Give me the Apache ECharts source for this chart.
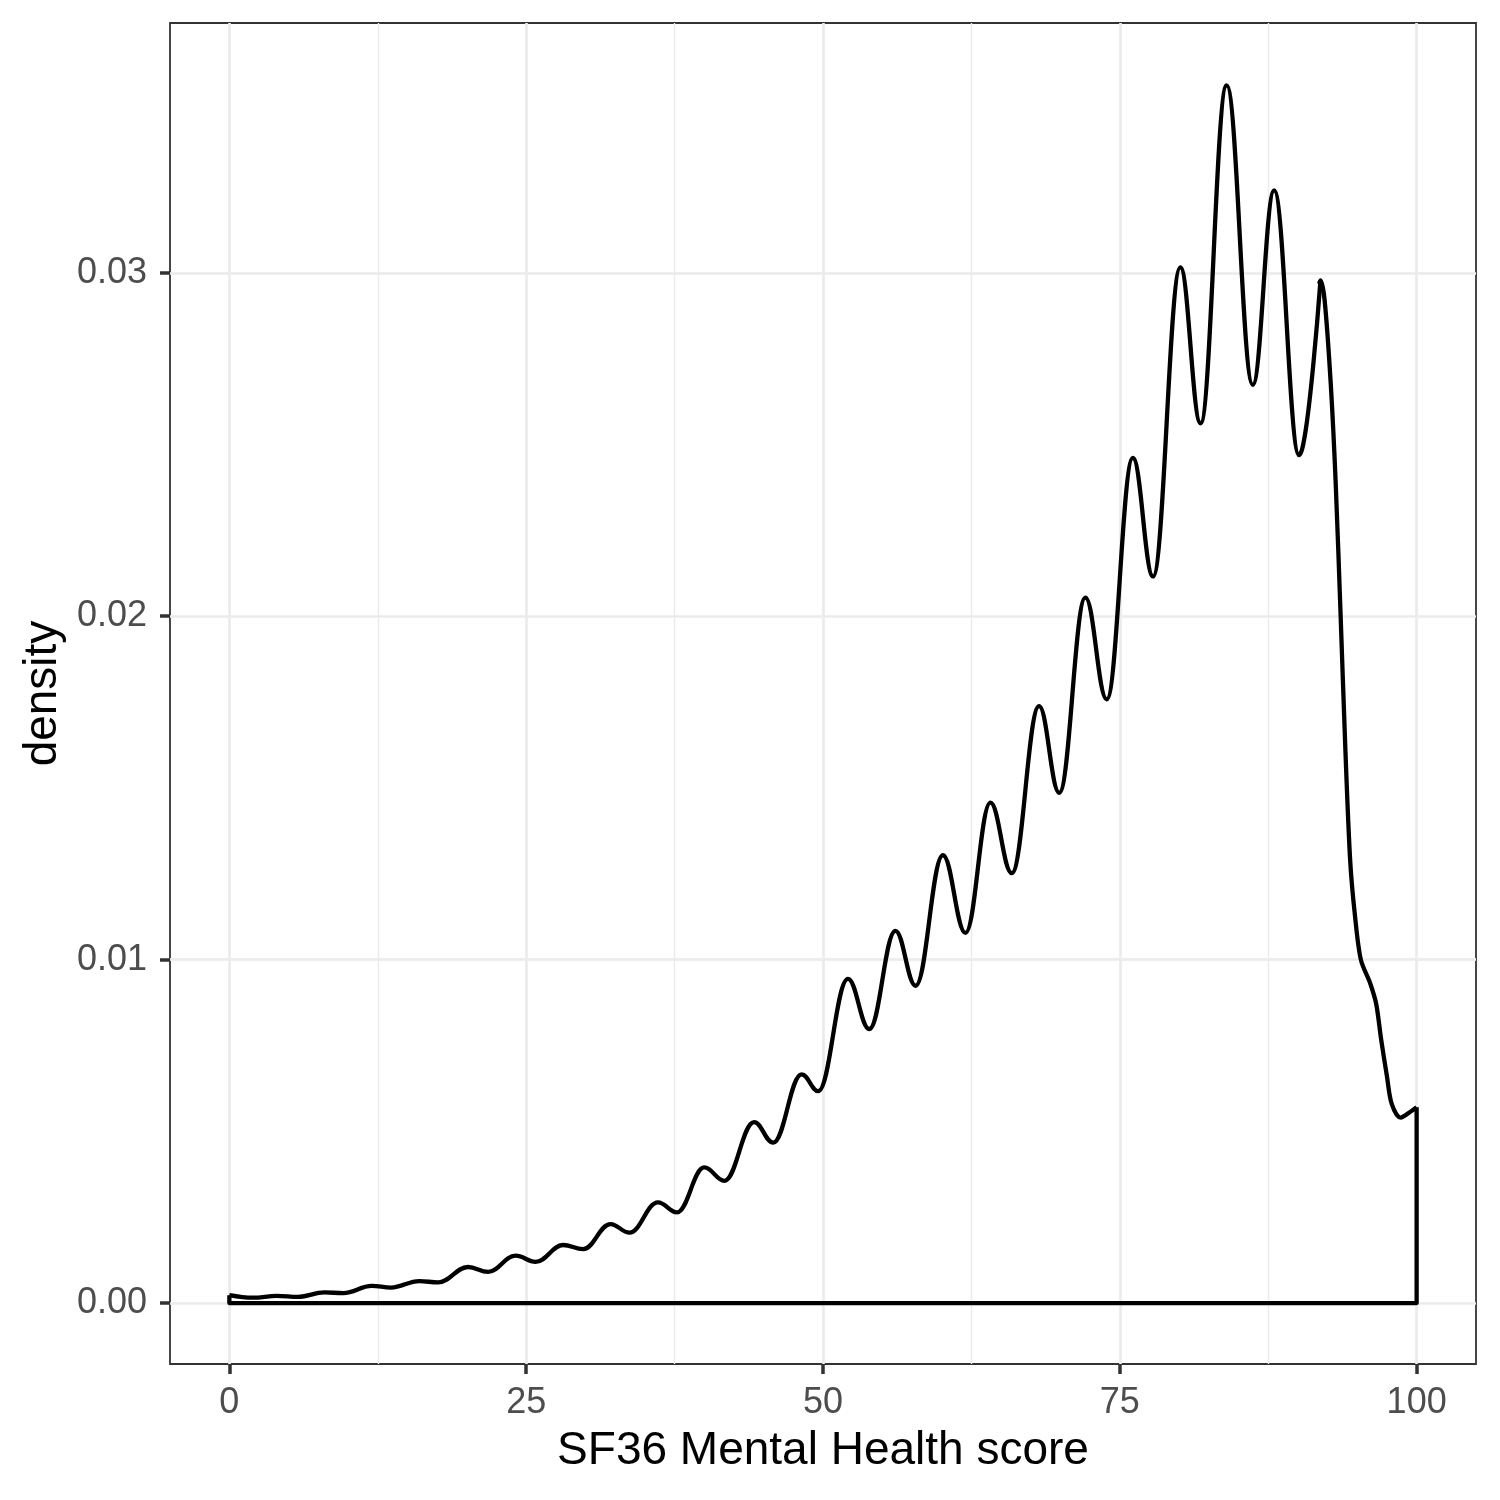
<!DOCTYPE html>
<html>
<head>
<meta charset="utf-8">
<script src="https://cdn.jsdelivr.net/npm/echarts@6/dist/echarts.min.js"></script>
<style>
  html, body { margin: 0; padding: 0; background: #ffffff; }
  #chart { width: 1500px; height: 1500px; }
</style>
</head>
<body>
<div id="chart"></div>
<script>
// Density curve: local peaks and troughs (score, density)
const curveX = [0, 2.0, 4.0, 5.8, 8.0, 9.6, 12.0, 13.6, 16.0, 17.6, 20.1, 21.8, 24.1, 25.8, 28.1, 29.8, 32.1, 33.7, 36.1, 37.7, 40.0, 41.7, 44.2, 45.8, 48.2, 49.6, 52.1, 53.9, 56.1, 57.8, 60.1, 62.0, 64.1, 65.9, 68.2, 69.9, 72.1, 73.9, 76.1, 77.8, 80.1, 81.8, 84.0, 86.2, 88.0, 90.1, 91.9];
const curveDensity = [0.00023, 0.000155, 0.00021, 0.00018, 0.00031, 0.00029, 0.0005, 0.00045, 0.00064, 0.0006, 0.00105, 0.00091, 0.00138, 0.0012, 0.00169, 0.00157, 0.0023, 0.00205, 0.00293, 0.00264, 0.00395, 0.00356, 0.00527, 0.00467, 0.00666, 0.00617, 0.00944, 0.00798, 0.01084, 0.00924, 0.01304, 0.01078, 0.01457, 0.01252, 0.01738, 0.01486, 0.02054, 0.01758, 0.02461, 0.02116, 0.03016, 0.02562, 0.03546, 0.02674, 0.0324, 0.02469, 0.02978];
// Last peak and the steep right tail
const tailX = [91.78, 91.9, 92.25, 92.76, 93.18, 93.6, 94.0, 94.4, 94.8, 95.3, 96.1, 96.6, 97.0, 97.5, 97.9, 98.65, 99.6, 100];
const tailDensity = [0.02968, 0.02978, 0.0292, 0.0268, 0.0239, 0.02, 0.0161, 0.0129, 0.0113, 0.0100, 0.0093, 0.0087, 0.0077, 0.0066, 0.0058, 0.0054, 0.0056, 0.0057];

const xTicks = [0, 25, 50, 75, 100];
const xMinorTicks = [12.5, 37.5, 62.5, 87.5];
const yTicks = [0, 0.01, 0.02, 0.03];
const yMinorTicks = [0.005, 0.015, 0.025, 0.035];
const xTitle = 'SF36 Mental Health score';
const yTitle = 'density';

const FONT = "'Liberation Sans', Arial, Helvetica, sans-serif";

const curveData = curveX.map((x, i) => [x, curveDensity[i]]);
const tailData = tailX.map((x, i) => [x, tailDensity[i]]);
const lastX = tailX[tailX.length - 1];
const lastD = tailDensity[tailDensity.length - 1];
const outlineData = [[lastX, lastD], [lastX, 0], [curveX[0], 0], [curveX[0], curveDensity[0]]];

const majorStyle = { color: '#EBEBEB', width: 2.7, type: 'solid' };
const minorStyle = { color: '#EBEBEB', width: 1.4, type: 'solid' };
const gridLines = []
  .concat(xMinorTicks.map(v => ({ xAxis: v, lineStyle: minorStyle })))
  .concat(yMinorTicks.map(v => ({ yAxis: v, lineStyle: minorStyle })))
  .concat(xTicks.map(v => ({ xAxis: v, lineStyle: majorStyle })))
  .concat(yTicks.map(v => ({ yAxis: v, lineStyle: majorStyle })));

const mkLineStyle = () => ({ color: '#000000', width: 4.3, join: 'round', cap: 'butt' });

const chart = echarts.init(document.getElementById('chart'), null, { renderer: 'canvas' });
chart.setOption({
  animation: false,
  backgroundColor: '#ffffff',
  textStyle: { fontFamily: FONT },
  grid: {
    left: 170, top: 23, width: 1306, height: 1341,
    show: true, borderColor: '#333333', borderWidth: 1.8, backgroundColor: 'transparent'
  },
  xAxis: {
    type: 'value', min: -5, max: 105,
    axisLine: { show: false, onZero: false },
    splitLine: { show: false },
    axisTick: { show: true, customValues: xTicks, length: 10, lineStyle: { color: '#333333', width: 3.5 } },
    axisLabel: { customValues: xTicks, fontSize: 36, color: '#4D4D4D', margin: 21, fontFamily: FONT },
    name: xTitle, nameLocation: 'middle', nameGap: 64,
    nameTextStyle: { fontSize: 46, color: '#000000', fontFamily: FONT }
  },
  yAxis: {
    type: 'value', min: -0.001775, max: 0.037275,
    axisLine: { show: false, onZero: false },
    splitLine: { show: false },
    axisTick: { show: true, customValues: yTicks, length: 10, lineStyle: { color: '#333333', width: 3.5 } },
    axisLabel: { customValues: yTicks, fontSize: 36, color: '#4D4D4D', margin: 23, fontFamily: FONT,
      formatter: v => Number(v).toFixed(2) },
    name: yTitle, nameLocation: 'middle', nameGap: 102,
    nameTextStyle: { fontSize: 46, color: '#000000', fontFamily: FONT }
  },
  series: [
    {
      type: 'line', data: [], z: 1, silent: true,
      markLine: { z: 1, silent: true, symbol: ['none', 'none'], label: { show: false }, animation: false, data: gridLines }
    },
    {
      type: 'line', data: outlineData, z: 3, symbol: 'none', smooth: false, silent: true,
      lineStyle: mkLineStyle()
    },
    {
      type: 'line', data: curveData, z: 4, symbol: 'none', smooth: 0.4, smoothMonotone: 'x', silent: true,
      lineStyle: mkLineStyle()
    },
    {
      type: 'line', data: tailData, z: 4, symbol: 'none', smooth: 0.3, silent: true,
      lineStyle: mkLineStyle()
    }
  ]
});
</script>
</body>
</html>
